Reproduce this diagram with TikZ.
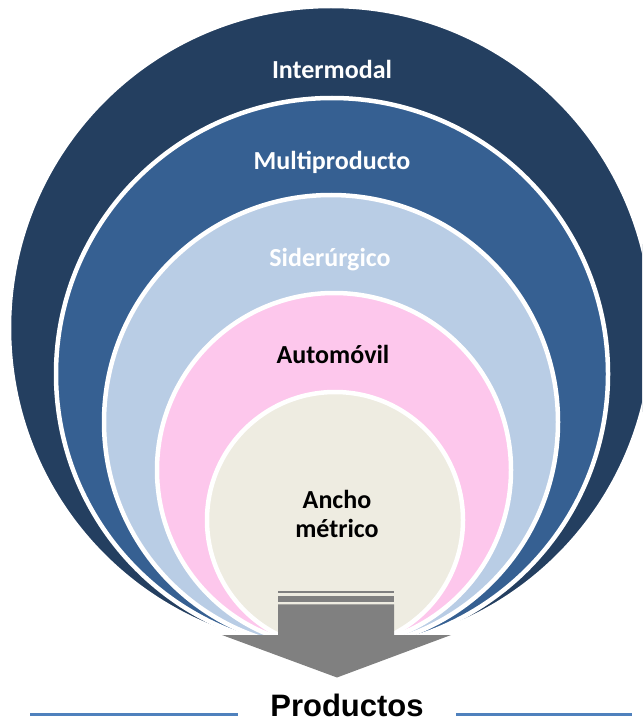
\documentclass[tikz,border=0pt]{standalone}
\usepackage{fontspec}
\setmainfont{Carlito}
\newfontfamily\arialfont{Liberation Sans}
\definecolor{navy}{HTML}{243F60}
\definecolor{midblue}{HTML}{366092}
\definecolor{lightblue}{HTML}{B9CDE5}
\definecolor{pinkc}{HTML}{FDC7EC}
\definecolor{beige}{HTML}{EEECE1}
\definecolor{greyarrow}{HTML}{808080}
\definecolor{lineblue}{HTML}{4F81BD}
\begin{document}
\begin{tikzpicture}[x=1pt,y=-1pt,
  ring/.style={draw=white, line width=4.5pt},
  lbl/.style={font=\bfseries\fontsize{26}{29}\selectfont, align=center, inner sep=0pt},
  blueline/.style={draw=lineblue, line width=3pt}]
\useasboundingbox (0,0) rectangle (642,722);
\clip (0,0) rectangle (642,722);
% nested circles, internally tangent near the bottom
\path[ring, fill=navy]      (331,328) circle[radius=322pt];
\path[ring, fill=midblue]   (332,374) circle[radius=276pt];
\path[ring, fill=lightblue] (331,422) circle[radius=227pt];
\path[ring, fill=pinkc]     (334,470) circle[radius=177pt];
\path[ring, fill=beige]     (335,520) circle[radius=128pt];
% labels
\node[lbl, text=white] (inter) at (332,69) {Intermodal};
\node[lbl, text=white] (multi) at (332,162) {Multiproducto};
\node[lbl, text=white] (sider) at (330,260) {Siderúrgico};
\node[lbl, text=black] (auto) at (333,354) {Automóvil};
\node[lbl, text=black] (ancho) at (337,514) {Ancho\\métrico};
% arrow
\fill[greyarrow] (278,590.5) rectangle (394,593.3);
\fill[greyarrow] (278,596) rectangle (394,601.7);
\fill[greyarrow] (278,604.3) -- (394,604.3) -- (394,635) -- (451,635) -- (337,677.5) -- (222,635) -- (278,635) -- cycle;
% caption
\node[anchor=base, font=\arialfont\bfseries\fontsize{31}{35}\selectfont, inner sep=0pt] (prod) at (347,716) {Productos};
\coordinate (la) at (30,714);
\coordinate (lb) at (238,714);
\coordinate (ra) at (456,714);
\coordinate (rb) at (632,714);
\draw[blueline] (la) -- (lb);
\draw[blueline] (ra) -- (rb);
\end{tikzpicture}
\end{document}
